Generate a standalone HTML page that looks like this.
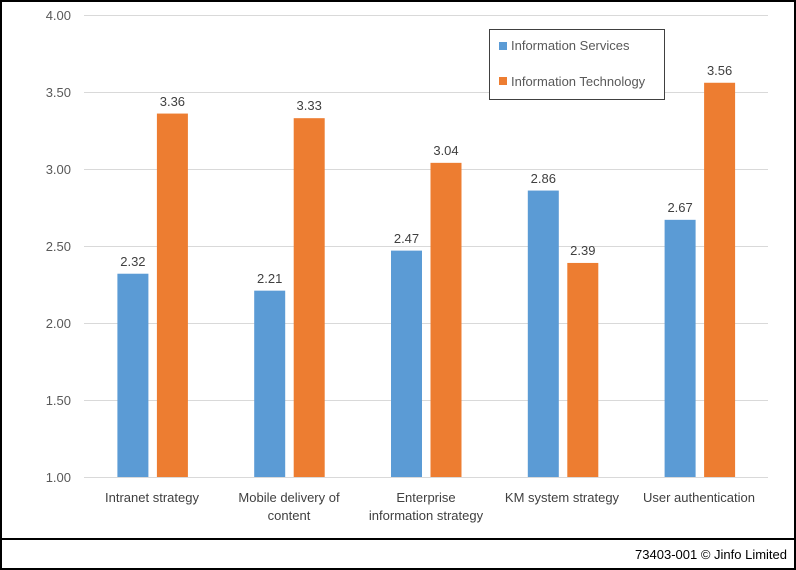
<!DOCTYPE html>
<html><head><meta charset="utf-8"><style>
body{margin:0;background:#fff}
svg{display:block;font-family:"Liberation Sans",sans-serif}
</style></head><body>
<svg width="796" height="570" viewBox="0 0 796 570">
<rect x="1" y="1" width="794" height="568" fill="#fff" stroke="#000" stroke-width="2"/>
<line x1="0" y1="539" x2="796" y2="539" stroke="#000" stroke-width="2"/>
<g stroke="#d9d9d9" stroke-width="1">
<line x1="84" y1="15.5" x2="768" y2="15.5"/>
<line x1="84" y1="92.5" x2="768" y2="92.5"/>
<line x1="84" y1="169.5" x2="768" y2="169.5"/>
<line x1="84" y1="246.5" x2="768" y2="246.5"/>
<line x1="84" y1="323.5" x2="768" y2="323.5"/>
<line x1="84" y1="400.5" x2="768" y2="400.5"/>
<line x1="84" y1="477.5" x2="768" y2="477.5"/>
</g>
<g font-size="13" fill="#595959" text-anchor="end">
<text x="71" y="20">4.00</text><text x="71" y="97">3.50</text><text x="71" y="174">3.00</text>
<text x="71" y="251">2.50</text><text x="71" y="328">2.00</text><text x="71" y="405">1.50</text><text x="71" y="482">1.00</text>
</g>
<g fill="#5b9bd5">
<rect x="117.4" y="273.72" width="31" height="203.28"/>
<rect x="254.2" y="290.66" width="31" height="186.34"/>
<rect x="391" y="250.62" width="31" height="226.38"/>
<rect x="527.8" y="190.56" width="31" height="286.44"/>
<rect x="664.6" y="219.82" width="31" height="257.18"/>
</g>
<g fill="#ed7d31">
<rect x="156.9" y="113.56" width="31" height="363.44"/>
<rect x="293.7" y="118.18" width="31" height="358.82"/>
<rect x="430.5" y="162.84" width="31" height="314.16"/>
<rect x="567.3" y="262.94" width="31" height="214.06"/>
<rect x="704.1" y="82.76" width="31" height="394.24"/>
</g>
<g font-size="13" fill="#404040" text-anchor="middle">
<text x="132.9" y="266">2.32</text><text x="172.4" y="106">3.36</text>
<text x="269.7" y="283">2.21</text><text x="309.2" y="110">3.33</text>
<text x="406.5" y="243">2.47</text><text x="446" y="155">3.04</text>
<text x="543.3" y="183">2.86</text><text x="582.8" y="255">2.39</text>
<text x="680.1" y="212">2.67</text><text x="719.6" y="75">3.56</text>
</g>
<g font-size="13" fill="#404040" text-anchor="middle">
<text x="152" y="502">Intranet strategy</text>
<text x="289" y="502">Mobile delivery of</text><text x="289" y="520">content</text>
<text x="426" y="502">Enterprise</text><text x="426" y="520">information strategy</text>
<text x="562" y="502">KM system strategy</text>
<text x="699" y="502">User authentication</text>
</g>
<rect x="489.5" y="29.5" width="175" height="70" fill="#fff" stroke="#404040" stroke-width="1"/>
<rect x="499" y="42" width="8" height="8" fill="#5b9bd5"/>
<rect x="499" y="77" width="8" height="8" fill="#ed7d31"/>
<g font-size="13" fill="#595959"><text x="511" y="50">Information Services</text><text x="511" y="86">Information Technology</text></g>
<text x="787" y="559" font-size="13" fill="#000" text-anchor="end">73403-001 © Jinfo Limited</text>
</svg>
</body></html>
